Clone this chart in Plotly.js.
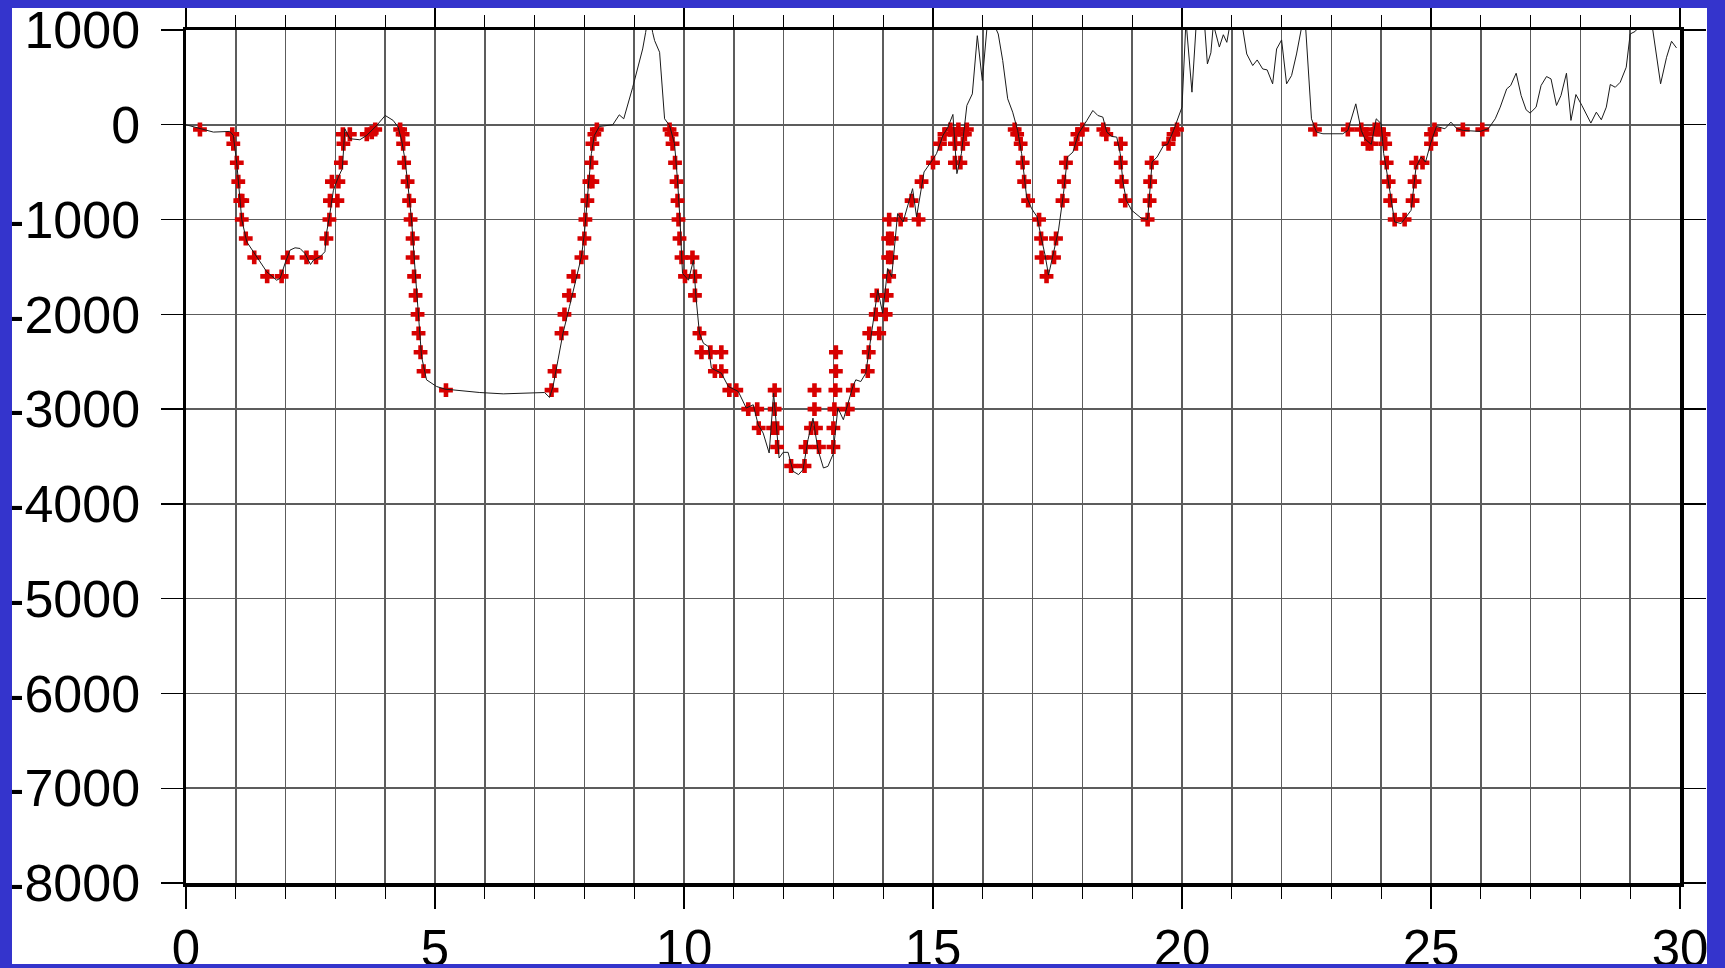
<!DOCTYPE html>
<html>
<head>
<meta charset="utf-8">
<script src="https://cdn.plot.ly/plotly-3.0.1.min.js"></script>
<style>
  html, body { margin: 0; padding: 0; background: #ffffff; }
  #chart { width: 1725px; height: 968px; }
</style>
</head>
<body>
<div id="chart"></div>
<script>
// ---- Profile line (distance, depth) ----
const profileX = [
  0.0, 0.3, 0.55, 0.88, 0.95, 1.02, 1.07, 1.12, 1.22, 1.42, 1.62, 1.82, 1.89, 1.99, 2.09, 2.19, 2.29, 2.39, 2.5, 2.56,
  2.69, 2.79, 2.82, 2.89, 2.96, 3.06, 3.14, 3.19, 3.29, 3.49, 3.63, 3.83, 4.0, 4.16, 4.26, 4.33, 4.4, 4.46, 4.53, 4.6,
  4.67, 4.73, 4.83, 5.03, 5.2, 5.9, 6.37, 6.9, 7.2, 7.3, 7.37, 7.47, 7.57, 7.7, 7.84, 7.94, 8.0, 8.04, 8.09, 8.14,
  8.2, 8.3, 8.57, 8.7, 8.79, 8.97, 9.17, 9.23, 9.3, 9.37, 9.41, 9.51, 9.61, 9.71, 9.81, 9.87, 9.92, 9.97, 10.09, 10.19,
  10.24, 10.31, 10.39, 10.49, 10.55, 10.75, 10.89, 11.09, 11.25, 11.39, 11.49, 11.59, 11.71, 11.8, 11.91, 11.99, 12.09, 12.19, 12.3, 12.39,
  12.49, 12.59, 12.69, 12.8, 12.89, 12.99, 13.09, 13.2, 13.39, 13.45, 13.55, 13.65, 13.79, 13.89, 13.99, 14.09, 14.17, 14.29, 14.4, 14.59,
  14.67, 14.82, 14.95, 15.07, 15.2, 15.3, 15.4, 15.48, 15.57, 15.68, 15.79, 15.89, 15.99, 16.08, 16.15, 16.31, 16.4, 16.5, 16.6, 16.7,
  16.78, 16.88, 16.98, 17.09, 17.17, 17.25, 17.32, 17.42, 17.52, 17.62, 17.7, 17.81, 17.92, 18.09, 18.21, 18.31, 18.41, 18.49, 18.59, 18.69,
  18.76, 18.81, 18.88, 18.99, 19.19, 19.31, 19.4, 19.5, 19.63, 19.71, 19.83, 20.0, 20.08, 20.2, 20.29, 20.45, 20.51, 20.58, 20.63, 20.75,
  20.83, 20.9, 20.97, 21.2, 21.3, 21.42, 21.51, 21.62, 21.71, 21.82, 21.9, 22.0, 22.1, 22.2, 22.3, 22.42, 22.48, 22.6, 22.7, 22.83,
  23.23, 23.33, 23.49, 23.6, 23.67, 23.8, 23.9, 24.0, 24.05, 24.13, 24.27, 24.4, 24.5, 24.6, 24.7, 24.8, 24.89, 25.0, 25.11, 25.28,
  25.4, 25.52, 25.65, 25.99, 26.15, 26.29, 26.39, 26.52, 26.6, 26.71, 26.81, 26.91, 26.99, 27.11, 27.21, 27.32, 27.41, 27.52, 27.61, 27.72,
  27.81, 27.91, 28.03, 28.13, 28.21, 28.32, 28.42, 28.52, 28.6, 28.7, 28.8, 28.92, 29.0, 29.1, 29.2, 29.44, 29.61, 29.73, 29.83, 29.93
];
const profileY = [
  0, -40, -77, -70, -112, -410, -726, -1000, -1235, -1393, -1550, -1640, -1620, -1460, -1322, -1298, -1305, -1358, -1474, -1428,
  -1393, -1340, -1147, -937, -690, -550, -463, -42, -147, -158, -112, -7, 98, 46, -25, -165, -375, -656, -1007, -1533,
  -2060, -2445, -2691, -2761, -2789, -2825, -2839, -2832, -2825, -2877, -2761, -2481, -2200, -1919, -1604, -1393, -1147, -867, -586, -305,
  -112, -18, 0, 105, 63, 396, 800, 975, 1200, 975, 888, 765, 63, -7, -200, -586, -1007, -1568, -1640, -1428,
  -1814, -2200, -2305, -2340, -2568, -2621, -2761, -2814, -2989, -2954, -3165, -3253, -3463, -2832, -3516, -3456, -3456, -3656, -3691, -3639,
  -3323, -3095, -3428, -3621, -3604, -3481, -2989, -3112, -2761, -2691, -2709, -2621, -2130, -1744, -1989, -1516, -1604, -937, -1025, -674,
  -972, -498, -400, -305, -112, -25, 109, -516, -305, 204, 326, 940, 467, 1000, 1150, 958, 677, 274, 133, -60,
  -305, -761, -884, -972, -1182, -1375, -1586, -1358, -1112, -726, -340, -288, -95, 46, 151, 98, 81, -77, -123, -130,
  -305, -586, -796, -902, -989, -1000, -393, -340, -218, -207, -60, 186, 1100, 344, 1100, 1080, 642, 760, 1060, 820,
  950, 870, 1080, 1080, 747, 625, 684, 589, 579, 432, 800, 895, 432, 519, 747, 1080, 1050, 63, -77, -95,
  -95, -60, 221, -60, -147, -207, 63, 11, -305, -551, -1025, -1042, -972, -902, -446, -340, -393, -182, -18, -42,
  28, -42, -60, -70, -42, 63, 186, 379, 414, 544, 309, 158, 123, 186, 414, 509, 484, 204, 309, 544,
  46, 319, 204, 98, 18, 133, 53, 186, 425, 396, 449, 607, 958, 985, 1050, 1050, 432, 712, 881, 811
];

// ---- Red "+" picks (distance, depth) ----
const pickX = [
  0.28, 0.93, 0.95, 1.02, 1.05, 1.09, 1.13, 1.12, 1.2, 1.37, 1.63, 1.92, 2.04, 2.42, 2.61, 2.82, 2.88, 2.89, 3.04, 2.93,
  3.06, 3.11, 3.16, 3.15, 3.29, 3.63, 3.73, 3.8, 4.3, 4.35, 4.36, 4.38, 4.45, 4.48, 4.51, 4.55, 4.55, 4.58, 4.61, 4.65,
  4.67, 4.71, 4.77, 5.22, 7.34, 7.4, 7.54, 7.6, 7.69, 7.78, 7.94, 8.0, 8.02, 8.06, 8.1, 8.16, 8.14, 8.16, 8.2, 8.25,
  9.71, 9.75, 9.77, 9.82, 9.85, 9.87, 9.89, 9.91, 9.95, 10.17, 10.02, 10.22, 10.22, 10.31, 10.35, 10.53, 10.75, 10.62, 10.75, 10.91,
  11.05, 11.29, 11.47, 11.5, 11.82, 11.82, 11.79, 11.87, 11.87, 12.15, 12.42, 12.44, 12.71, 12.55, 12.65, 12.62, 12.62, 13.0, 13.0, 13.02,
  13.29, 13.04, 13.39, 13.05, 13.05, 13.69, 13.71, 13.72, 13.92, 13.85, 14.05, 13.87, 14.07, 14.12, 14.1, 14.16, 14.1, 14.17, 14.12, 14.35,
  14.71, 14.57, 14.77, 15.0, 15.14, 15.23, 15.35, 15.44, 15.55, 15.44, 15.6, 15.44, 15.64, 15.51, 15.68,
  16.64, 16.69, 16.76, 16.8, 16.83, 16.91, 17.13, 17.17, 17.47, 17.18, 17.43, 17.28, 17.6, 17.63, 17.67, 17.87, 17.9, 18.0, 18.42, 18.48,
  18.77, 18.77, 18.79, 18.86, 19.31, 19.35, 19.36, 19.39, 19.73, 19.83, 19.9,
  22.67, 23.33, 23.6, 23.7, 23.73, 23.8, 23.87, 23.93, 24.05, 24.08, 24.11, 24.15, 24.18, 24.27, 24.47, 24.63, 24.67, 24.7, 24.83, 25.0,
  25.0, 25.07, 25.64, 26.03
];
const pickY = [
  -50, -100, -200, -400, -600, -800, -800, -1000, -1200, -1400, -1600, -1600, -1400, -1400, -1400, -1200, -1000, -800, -800, -600,
  -600, -400, -200, -100, -100, -100, -80, -50, -50, -100, -200, -400, -600, -800, -1000, -1200, -1400, -1600, -1800, -2000,
  -2200, -2400, -2600, -2800, -2800, -2600, -2200, -2000, -1800, -1600, -1400, -1200, -1000, -800, -600, -600, -400, -200, -100, -50,
  -50, -100, -200, -400, -600, -800, -1000, -1200, -1400, -1400, -1600, -1600, -1800, -2200, -2400, -2400, -2400, -2600, -2600, -2800,
  -2800, -3000, -3000, -3200, -2800, -3000, -3200, -3200, -3400, -3600, -3600, -3400, -3400, -3200, -3200, -3000, -2800, -3400, -3200, -3000,
  -3000, -2800, -2800, -2600, -2400, -2600, -2400, -2200, -2200, -2000, -2000, -1800, -1800, -1600, -1400, -1400, -1200, -1200, -1000, -1000,
  -1000, -800, -600, -400, -200, -100, -50, -400, -400, -200, -200, -100, -100, -50, -50,
  -50, -100, -200, -400, -600, -800, -1000, -1200, -1200, -1400, -1400, -1600, -800, -600, -400, -200, -100, -50, -50, -100,
  -200, -400, -600, -800, -1000, -800, -600, -400, -200, -100, -50,
  -50, -50, -50, -100, -200, -200, -50, -50, -100, -200, -400, -600, -800, -1000, -1000, -800, -600, -400, -400, -200,
  -100, -50, -50, -50
];

// ---- Axis ticks ----
const xTickVals = [0, 5, 10, 15, 20, 25, 30];
const xTickText = ["0", "5", "10", "15", "20", "25", "30"];
const yTickVals = [-8000, -7000, -6000, -5000, -4000, -3000, -2000, -1000, 0, 1000];
const yTickText = ["-8000", "-7000", "-6000", "-5000", "-4000", "-3000", "-2000", "-1000", "0", "1000"];

const BLUE = '#3434cc';
const GRID = '#5c5c5c';
const FAMILY = '"Liberation Sans", Arial, Helvetica, sans-serif';

const traces = [
  {
    x: pickX, y: pickY, type: 'scatter', mode: 'markers',
    marker: {symbol: 'cross', size: 11.5, color: '#d80000', line: {width: 0}},
    hoverinfo: 'skip'
  },
  {
    x: profileX, y: profileY, type: 'scatter', mode: 'lines',
    line: {color: '#1a1a1a', width: 1},
    hoverinfo: 'skip'
  }
];

function pxRect(xanchor, x0, x1, yanchor, y0, y1) {
  return {
    type: 'rect', layer: 'above',
    xref: 'paper', yref: 'paper',
    xsizemode: 'pixel', ysizemode: 'pixel',
    xanchor: xanchor, yanchor: yanchor,
    x0: x0, x1: x1, y0: y0, y1: y1,
    fillcolor: BLUE, line: {width: 0}
  };
}

const layout = {
  width: 1725, height: 968,
  margin: {l: 186, r: 45, t: 30, b: 85, pad: 0},
  paper_bgcolor: '#ffffff',
  plot_bgcolor: '#ffffff',
  showlegend: false,
  hovermode: false,
  font: {family: FAMILY, size: 50, color: '#000'},
  xaxis: {
    range: [0, 30],
    tickmode: 'array', tickvals: xTickVals, ticktext: xTickText,
    ticks: 'outside', ticklen: 22, tickwidth: 1.3, tickcolor: '#000',
    showline: true, linewidth: 3.5, linecolor: '#000', mirror: 'allticks',
    showgrid: false,
    zeroline: false,
    tickfont: {family: FAMILY, size: 51, color: '#000'},
    ticklabelstandoff: -4,
    minor: {
      tickmode: 'linear', tick0: 0, dtick: 1,
      ticks: 'outside', ticklen: 12, tickwidth: 1.3, tickcolor: '#000',
      showgrid: true, gridcolor: GRID, gridwidth: 1.6
    }
  },
  yaxis: {
    range: [-8000, 1000],
    tickmode: 'array', tickvals: yTickVals, ticktext: yTickText,
    ticks: 'outside', ticklen: 22, tickwidth: 1.3, tickcolor: '#000',
    showline: true, linewidth: 3.5, linecolor: '#000', mirror: 'allticks',
    showgrid: true, gridcolor: GRID, gridwidth: 1.6,
    zeroline: false,
    tickfont: {family: FAMILY, size: 52, color: '#000'},
    ticklabelstandoff: 10
  },
  shapes: [
    pxRect(0, -200, 1700, 1, 22, 60),     // top band
    pxRect(0, -200, 1700, 0, -81, -120),  // bottom band
    pxRect(0, -200, -174, 0, -120, 960),  // left band
    pxRect(1, 27, 80, 0, -120, 960)       // right band
  ]
};

Plotly.newPlot('chart', traces, layout, {displayModeBar: false, staticPlot: true});
</script>
</body>
</html>
